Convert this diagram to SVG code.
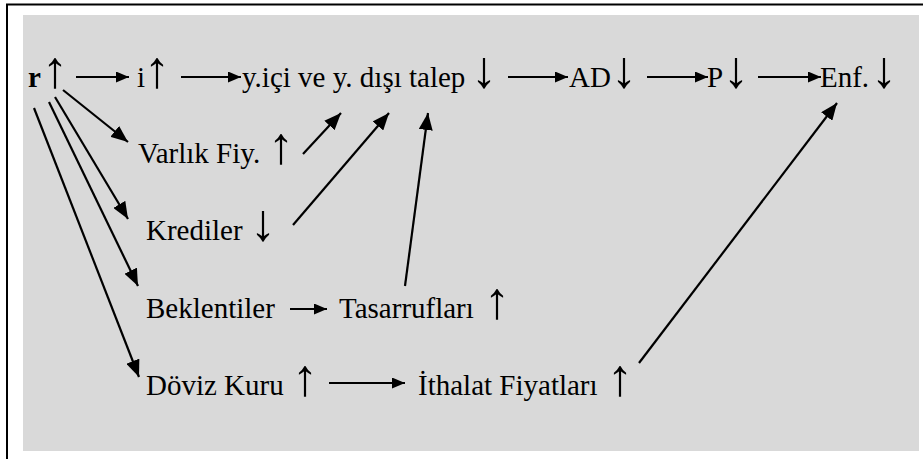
<svg xmlns="http://www.w3.org/2000/svg" width="923" height="459" viewBox="0 0 923 459">
<defs>
<marker id="ah" markerUnits="userSpaceOnUse" markerWidth="18" markerHeight="14" refX="17" refY="7" orient="auto"><path d="M0,0 L17,7 L0,14 Z" fill="#000"/></marker>
<marker id="hs" markerUnits="userSpaceOnUse" markerWidth="14" markerHeight="12" refX="13" refY="5.5" orient="auto"><path d="M0,0 L13,5.5 L0,11 Z" fill="#000"/></marker>
</defs>
<style>
text{font-family:"Liberation Serif","Times New Roman",serif;font-size:29px;fill:#000}
text.ar{font-size:52px;text-anchor:middle}
.c line{stroke:#000;stroke-width:2.2}
.d{marker-end:url(#ah)}
.h{marker-end:url(#hs)}
</style>
<rect x="0" y="0" width="923" height="459" fill="#fff"/>
<path d="M7,459 V4.5 H923" fill="none" stroke="#000" stroke-width="2"/>
<rect x="23" y="15" width="896" height="436" fill="#d9d9d9"/>
<g id="n-r"><text x="28" y="87" font-weight="bold">r</text><text class="ar" x="55" y="87">↑</text></g>
<g id="n-i"><text x="137" y="87">i</text><text class="ar" x="157" y="87">↑</text></g>
<g id="n-talep"><text x="242" y="87">y.içi ve y. dışı talep</text><text class="ar" x="484" y="87">↓</text></g>
<g id="n-ad"><text x="569" y="87">AD</text><text class="ar" x="624" y="87">↓</text></g>
<g id="n-p"><text x="707" y="87">P</text><text class="ar" x="736" y="87">↓</text></g>
<g id="n-enf"><text x="820" y="87">Enf.</text><text class="ar" x="884" y="87">↓</text></g>
<g id="n-varlik"><text x="138" y="163">Varlık Fiy.</text><text class="ar" x="281" y="163">↑</text></g>
<g id="n-krediler"><text x="146" y="240">Krediler</text><text class="ar" x="263" y="240">↓</text></g>
<g id="n-beklentiler"><text x="146" y="318">Beklentiler</text></g>
<g id="n-tasarruf"><text x="339" y="318">Tasarrufları</text><text class="ar" x="497" y="318">↑</text></g>
<g id="n-doviz"><text x="146" y="395">Döviz Kuru</text><text class="ar" x="305" y="395">↑</text></g>
<g id="n-ithalat"><text x="418" y="395">İthalat Fiyatları</text><text class="ar" x="620" y="395">↑</text></g>
<g class="c" id="connectors">
<line class="h" x1="76" y1="77" x2="129" y2="77"/>
<line class="h" x1="181" y1="77" x2="241" y2="77"/>
<line class="h" x1="508" y1="77" x2="568" y2="77"/>
<line class="h" x1="647" y1="77" x2="708" y2="77"/>
<line class="h" x1="758" y1="77" x2="821" y2="77"/>
<line class="d" x1="63" y1="90" x2="128" y2="142"/>
<line class="d" x1="55" y1="97" x2="128" y2="219"/>
<line class="d" x1="49" y1="102" x2="138" y2="286"/>
<line class="d" x1="34" y1="108" x2="139" y2="377"/>
<line class="d" x1="303" y1="154" x2="341" y2="113"/>
<line class="d" x1="293" y1="225" x2="389" y2="113"/>
<line class="d" x1="405" y1="286" x2="428" y2="113"/>
<line class="d" x1="639" y1="363" x2="837" y2="103"/>
<line class="h" x1="290" y1="309" x2="327" y2="309"/>
<line class="h" x1="329" y1="383" x2="405" y2="383"/>
</g>
</svg>
